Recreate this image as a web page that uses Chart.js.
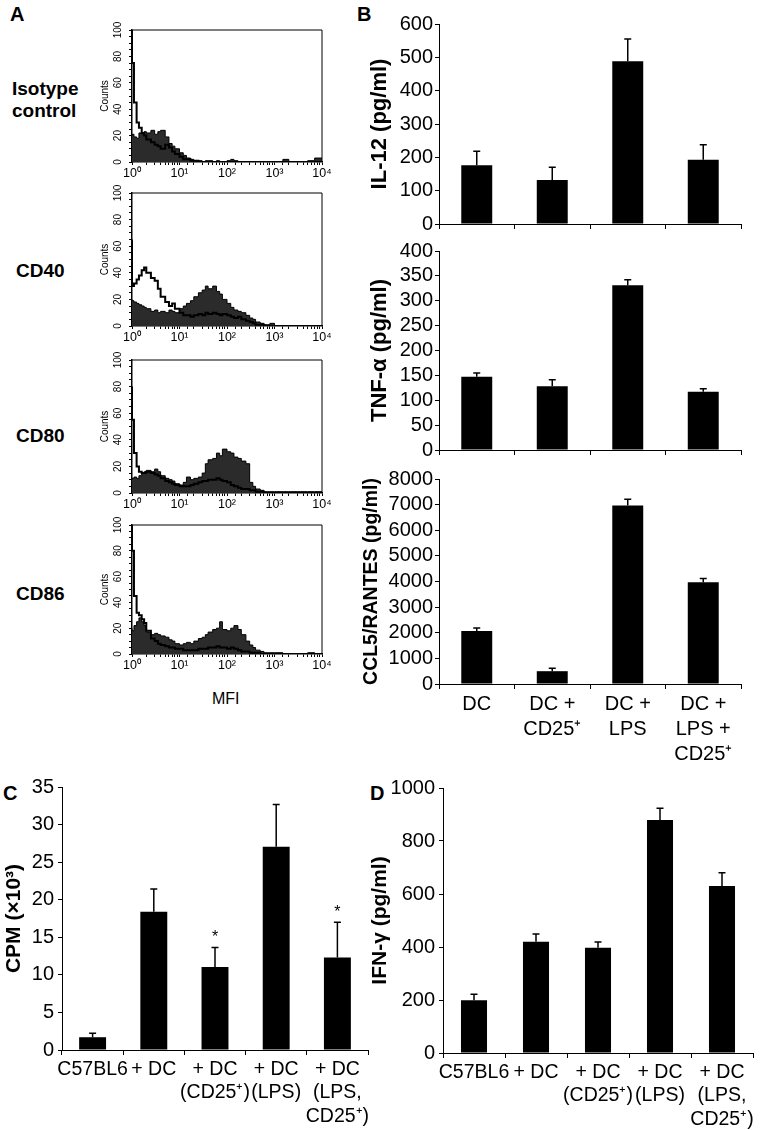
<!DOCTYPE html>
<html>
<head>
<meta charset="utf-8">
<script src="https://cdn.jsdelivr.net/npm/chart.js@4.4.1/dist/chart.umd.min.js"></script>
<style>
  body { margin: 0; background: #fff; width: 760px; height: 1130px; position: relative; overflow: hidden;
         font-family: "Liberation Sans", Arial, Helvetica, sans-serif; color: #000; }
  canvas { position: absolute; }
  .lbl { position: absolute; font-weight: bold; white-space: nowrap; line-height: 22px; }
</style>
</head>
<body>
<div class="lbl" style="left:10px;top:3px;font-size:20px">A</div>
<div class="lbl" style="left:357px;top:3px;font-size:20px">B</div>
<div class="lbl" style="left:3px;top:782px;font-size:20px">C</div>
<div class="lbl" style="left:370px;top:782px;font-size:20px">D</div>

<div class="lbl" style="left:12px;top:78px;font-size:19px">Isotype<br>control</div>
<div class="lbl" style="left:16px;top:260px;font-size:19px">CD40</div>
<div class="lbl" style="left:16px;top:425px;font-size:19px">CD80</div>
<div class="lbl" style="left:16px;top:583px;font-size:19px">CD86</div>
<div class="lbl" style="left:212px;top:688px;font-size:16px;font-weight:normal">MFI</div>

<canvas id="isoChart" width="245" height="158" style="left:90px;top:22px"></canvas>
<canvas id="cd40Chart" width="245" height="159" style="left:90px;top:185px"></canvas>
<canvas id="cd80Chart" width="245" height="159" style="left:90px;top:352px"></canvas>
<canvas id="cd86Chart" width="245" height="155" style="left:90px;top:517px"></canvas>

<canvas id="il12Chart" width="395" height="228" style="left:360px;top:10px"></canvas>
<canvas id="tnfChart" width="395" height="227" style="left:360px;top:237px"></canvas>
<canvas id="ccl5Chart" width="395" height="309" style="left:360px;top:465px"></canvas>

<canvas id="cpmChart" width="380" height="360" style="left:0px;top:770px"></canvas>
<canvas id="ifngChart" width="392" height="360" style="left:368px;top:770px"></canvas>

<script>
'use strict';

// ---- panel A: flow histograms (MFI channel, counts) ----
var mfiBins = [1, 1.1, 1.25, 1.4, 1.6, 1.8, 2, 2.5, 3, 3.5, 4, 5, 6, 7, 8, 10, 12, 14, 17, 20,
  25, 30, 35, 40, 50, 60, 70, 80, 100, 120, 140, 170, 200, 250, 300, 350, 400, 500, 600, 700,
  800, 1000, 1500, 2000, 3000, 5000, 7000, 10000];
var flowTickValues = [1, 10, 100, 1000, 10000];
var flowTickLabels = ['10⁰', '10¹', '10²', '10³', '10⁴'];
var countTicks = [0, 20, 40, 60, 80, 100];

var isoOpen = [100, 75, 45, 30, 26, 22, 20, 17, 15, 13, 12, 10, 13, 11, 8, 6, 4, 2, 2, 1,
  1, 0, 0, 0, 0, 0, 0, 0, 0, 0, 0, 0, 0, 0, 0, 0, 0, 0, 0, 0,
  0, 0, 0, 0, 0, 0, 0, 0];
var isoFill = [20, 21, 19, 18, 22, 21, 23, 22, 24, 21, 23, 24, 19, 14, 12, 10, 7, 5, 3, 2,
  1, 1, 0, 1, 1, 0, 1, 0, 0, 1, 2, 1, 0, 0, 0, 0, 0, 0, 0, 0,
  0, 0, 0, 2, 0, 0, 1, 3];
var cd40Open = [65, 30, 32, 35, 38, 42, 44, 40, 36, 34, 28, 22, 18, 15, 17, 13, 10, 8, 8, 7,
  8, 9, 8, 10, 9, 10, 9, 8, 9, 8, 7, 6, 7, 5, 4, 3, 2, 1, 1, 0,
  0, 0, 0, 0, 0, 0, 0, 0];
var cd40Fill = [20, 19, 18, 17, 16, 15, 14, 13, 11, 12, 10, 11, 10, 12, 11, 10, 13, 15, 17, 19,
  22, 25, 27, 30, 28, 30, 26, 24, 20, 17, 14, 12, 11, 10, 8, 6, 5, 3, 2, 1,
  1, 2, 0, 0, 0, 0, 0, 0];
var cd80Open = [80, 55, 30, 20, 16, 15, 15, 16, 15, 14, 13, 11, 9, 8, 7, 6, 5, 5, 5, 6,
  7, 8, 9, 9, 10, 10, 11, 10, 9, 8, 6, 5, 4, 3, 3, 2, 2, 1, 1, 0,
  0, 0, 0, 0, 0, 0, 0, 0];
var cd80Fill = [10, 11, 12, 11, 13, 15, 16, 17, 16, 18, 16, 13, 11, 10, 9, 7, 6, 8, 12, 10,
  11, 12, 15, 22, 25, 26, 30, 28, 33, 31, 30, 27, 26, 24, 22, 8, 5, 3, 2, 1,
  1, 1, 1, 1, 1, 1, 1, 1];
var cd86Open = [100, 80, 45, 32, 30, 27, 24, 18, 12, 10, 8, 7, 6, 5, 5, 4, 4, 3, 3, 3,
  3, 4, 4, 4, 5, 5, 6, 5, 5, 4, 5, 4, 3, 2, 2, 1, 1, 1, 0, 0,
  0, 0, 0, 0, 0, 0, 0, 0];
var cd86Fill = [20, 18, 22, 25, 28, 25, 22, 17, 15, 16, 15, 14, 13, 11, 10, 8, 7, 8, 9, 8,
  10, 12, 13, 15, 17, 19, 20, 25, 19, 18, 20, 22, 19, 15, 10, 7, 5, 3, 2, 1,
  1, 1, 1, 0, 0, 0, 1, 0];

// ---- panel B: cytokines ----
var dcGroups = ['DC', ['DC +', 'CD25⁺'], ['DC +', 'LPS'], ['DC +', 'LPS +', 'CD25⁺']];
var il12 = [176, 132, 488, 193];
var il12Err = [42, 38, 67, 45];
var tnf = [147, 128, 331, 117];
var tnfErr = [8, 13, 11, 6];
var ccl5 = [2070, 500, 6970, 3970];
var ccl5Err = [120, 110, 240, 150];

// ---- panels C and D ----
var mlrGroups = ['C57BL6', '+ DC', ['+ DC', '(CD25⁺)'], ['+ DC', '(LPS)'], ['+ DC', '(LPS,', 'CD25⁺)']];
var cpm = [1.7, 18.4, 11.05, 27.06, 12.3];
var cpmErr = [0.53, 3.02, 2.6, 5.6, 4.7];
var cpmStars = ['', '', '*', '', '*'];
var ifng = [199, 420, 397, 879, 630];
var ifngErr = [23, 29, 22, 45, 50];

var FONT = '"Liberation Sans", Arial, Helvetica, sans-serif';
Chart.defaults.font.family = FONT;
Chart.defaults.color = '#000';
Chart.defaults.animation = false;

// box round the histogram + rotated count labels
var flowFramePlugin = {
  id: 'flowFrame',
  afterDraw: function (chart) {
    var a = chart.chartArea;
    var ctx = chart.ctx;
    var y = chart.scales.y;
    ctx.save();
    ctx.strokeStyle = '#000';
    ctx.lineWidth = 1;
    ctx.beginPath();
    ctx.moveTo(a.left, a.top);
    ctx.lineTo(a.right, a.top);
    ctx.lineTo(a.right, a.bottom);
    ctx.stroke();
    ctx.fillStyle = '#000';
    ctx.font = '10px ' + FONT;
    ctx.textAlign = 'center';
    ctx.textBaseline = 'middle';
    for (var i = 0; i < countTicks.length; i++) {
      ctx.save();
      ctx.translate(a.left - 14, y.getPixelForValue(countTicks[i]));
      ctx.rotate(-Math.PI / 2);
      ctx.fillText(String(countTicks[i]), 0, 0);
      ctx.restore();
    }
    ctx.translate(a.left - 27, y.getPixelForValue(50));
    ctx.rotate(-Math.PI / 2);
    ctx.fillText('Counts', 0, 0);
    ctx.restore();
  }
};

function flowTick(value) {
  for (var i = 0; i < flowTickValues.length; i++) {
    if (Math.abs(value - flowTickValues[i]) < 1e-6 * flowTickValues[i]) {
      return flowTickLabels[i];
    }
  }
  return '';
}

function makeFlowChart(id, filled, open) {
  return new Chart(document.getElementById(id).getContext('2d'), {
    type: 'line',
    data: {
      labels: mfiBins,
      datasets: [
        { data: open, fill: false, borderColor: '#000', borderWidth: 2, stepped: 'after', pointRadius: 0, order: 1 },
        { data: filled, fill: 'origin', backgroundColor: '#2b2b2b', borderColor: '#000', borderWidth: 1,
          stepped: 'after', pointRadius: 0, order: 2 }
      ]
    },
    options: {
      responsive: false,
      animation: false,
      layout: { padding: { top: 8, right: 13, left: 0, bottom: 0 } },
      plugins: { legend: { display: false }, tooltip: { enabled: false } },
      scales: {
        x: {
          type: 'logarithmic', min: 1, max: 10000,
          afterFit: function (s) { s.height = 18; },
          grid: { drawOnChartArea: false, drawTicks: true, tickLength: 3, color: '#000' },
          border: { color: '#000', width: 1.5 },
          ticks: { autoSkip: false, maxRotation: 0, minRotation: 0, padding: 1, font: { size: 12.5 }, callback: flowTick }
        },
        y: {
          min: 0, max: 100,
          afterFit: function (s) { s.width = 42; },
          grid: { drawOnChartArea: false, drawTicks: true, tickLength: 3, color: '#000' },
          border: { color: '#000', width: 1.5 },
          ticks: { stepSize: 5, display: false }
        }
      }
    },
    plugins: [flowFramePlugin]
  });
}

// upper error whiskers (and significance stars)
var errorBarPlugin = {
  id: 'errorBars',
  afterDatasetsDraw: function (chart, args, opts) {
    if (!opts.errors) return;
    var ctx = chart.ctx;
    var meta = chart.getDatasetMeta(0);
    var yScale = chart.scales.y;
    var data = chart.data.datasets[0].data;
    ctx.save();
    ctx.strokeStyle = '#000';
    ctx.fillStyle = '#000';
    ctx.lineWidth = 1.5;
    ctx.font = '16px ' + FONT;
    ctx.textAlign = 'center';
    ctx.textBaseline = 'alphabetic';
    for (var i = 0; i < meta.data.length; i++) {
      var bar = meta.data[i];
      var top = yScale.getPixelForValue(data[i] + opts.errors[i]);
      ctx.beginPath();
      ctx.moveTo(bar.x, bar.y);
      ctx.lineTo(bar.x, top);
      ctx.moveTo(bar.x - 3.5, top);
      ctx.lineTo(bar.x + 3.5, top);
      ctx.stroke();
      if (opts.stars && opts.stars[i]) {
        ctx.fillText(opts.stars[i], bar.x, top - 5);
      }
    }
    ctx.restore();
  }
};

function makeBarChart(id, spec) {
  return new Chart(document.getElementById(id).getContext('2d'), {
    type: 'bar',
    data: {
      labels: spec.labels,
      datasets: [{ data: spec.values, backgroundColor: '#000', borderWidth: 0,
        barPercentage: spec.barPct, categoryPercentage: 1 }]
    },
    options: {
      responsive: false,
      animation: false,
      layout: { padding: { top: spec.padTop, right: spec.padRight, left: 0, bottom: 0 } },
      plugins: {
        legend: { display: false },
        tooltip: { enabled: false },
        errorBars: { errors: spec.errors, stars: spec.stars }
      },
      scales: {
        x: {
          afterFit: function (s) { s.height = spec.xHeight; },
          grid: { drawOnChartArea: false, drawTicks: true, tickLength: 5, color: '#000' },
          border: { color: '#000' },
          ticks: { display: spec.showLabels, autoSkip: false, maxRotation: 0, minRotation: 0, padding: 3,
            font: { size: spec.xFont, lineHeight: spec.xLine } }
        },
        y: {
          min: 0, max: spec.yMax,
          afterFit: function (s) { s.width = spec.yWidth; },
          grid: { drawOnChartArea: false, drawTicks: true, tickLength: 4, color: '#000' },
          border: { color: '#000' },
          ticks: { stepSize: spec.yStep, autoSkip: false, padding: spec.yPad, font: { size: 20 },
            callback: function (v) { return String(v); } },
          title: { display: true, text: spec.title, font: { size: spec.titleSize, weight: 'bold' },
            padding: { top: spec.titlePad, bottom: 0 } }
        }
      }
    },
    plugins: [errorBarPlugin]
  });
}

makeFlowChart('isoChart', isoFill, isoOpen);
makeFlowChart('cd40Chart', cd40Fill, cd40Open);
makeFlowChart('cd80Chart', cd80Fill, cd80Open);
makeFlowChart('cd86Chart', cd86Fill, cd86Open);

makeBarChart('il12Chart', {
  labels: dcGroups, values: il12, errors: il12Err, yMax: 600, yStep: 100,
  title: 'IL-12 (pg/ml)', titleSize: 22, titlePad: 7, barPct: 0.41,
  padTop: 14, padRight: 14, yWidth: 79, yPad: 2, xHeight: 10, showLabels: false, xFont: 20, xLine: 1.25
});
makeBarChart('tnfChart', {
  labels: dcGroups, values: tnf, errors: tnfErr, yMax: 400, yStep: 50,
  title: 'TNF-α (pg/ml)', titleSize: 22, titlePad: 7, barPct: 0.41,
  padTop: 14, padRight: 14, yWidth: 79, yPad: 2, xHeight: 10, showLabels: false, xFont: 20, xLine: 1.25
});
makeBarChart('ccl5Chart', {
  labels: dcGroups, values: ccl5, errors: ccl5Err, yMax: 8000, yStep: 1000,
  title: 'CCL5/RANTES (pg/ml)', titleSize: 19.5, titlePad: 0, barPct: 0.41,
  padTop: 14, padRight: 14, yWidth: 79, yPad: 2, xHeight: 90, showLabels: true, xFont: 20, xLine: 1.25
});
makeBarChart('cpmChart', {
  labels: mlrGroups, values: cpm, errors: cpmErr, stars: cpmStars, yMax: 35, yStep: 5,
  title: 'CPM (×10³)', titleSize: 21, titlePad: 2, barPct: 0.44,
  padTop: 17, padRight: 12, yWidth: 62, yPad: 4, xHeight: 80, showLabels: true, xFont: 19.5, xLine: 1.2
});
makeBarChart('ifngChart', {
  labels: mlrGroups, values: ifng, errors: ifngErr, yMax: 1000, yStep: 200,
  title: 'IFN-γ (pg/ml)', titleSize: 21, titlePad: 0, barPct: 0.42,
  padTop: 18, padRight: 7, yWidth: 75, yPad: 4, xHeight: 77, showLabels: true, xFont: 19.5, xLine: 1.2
});
</script>
</body>
</html>
